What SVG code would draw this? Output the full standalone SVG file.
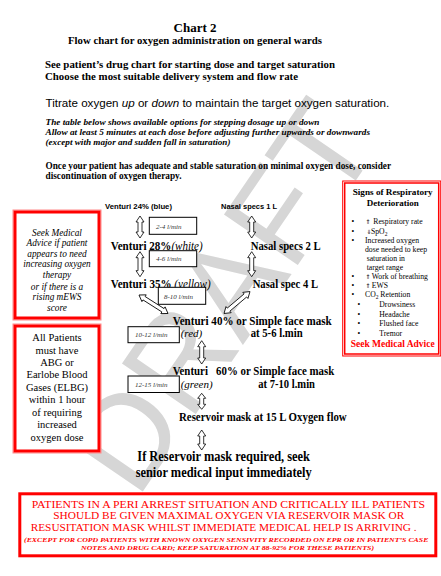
<svg xmlns="http://www.w3.org/2000/svg" width="441" height="576" viewBox="0 0 441 576">
<style>
.sb{font-family:"Liberation Serif",serif;font-weight:bold;fill:#000}
.s{font-family:"Liberation Serif",serif;fill:#000}
.it{font-style:italic}
.nb{font-weight:normal}
.ar{font-family:"Liberation Sans",Arial,sans-serif;fill:#000}
.red{fill:#f00}
.arr{fill:#fff;stroke:#000;stroke-width:0.8}
.fb{fill:#fff;stroke:#000;stroke-width:1}
.fl{font-family:"Liberation Serif",serif;font-style:italic;font-size:7px;fill:#333}
.rb{fill:none;stroke:#f00}
.sym{font-family:"DejaVu Sans",sans-serif;font-size:6px;fill:#000}
</style>
<rect width="441" height="576" fill="#fff"/>
<g id="watermark">
<text x="0" y="0" transform="translate(222,296) rotate(-55.6)" text-anchor="middle" dy="45" font-family="Liberation Sans, Arial, sans-serif" font-size="130" fill="#d6d6d6">DRAFT</text>
</g>
<g id="header">
<text class="sb" x="195" y="32" text-anchor="middle" font-size="13">Chart 2</text>
<text class="sb" x="68" y="44" font-size="10.5" textLength="254" lengthAdjust="spacingAndGlyphs">Flow chart for oxygen administration on general wards</text>
<text class="sb" x="45" y="68" font-size="10.5" textLength="290" lengthAdjust="spacingAndGlyphs">See patient’s drug chart for starting dose and target saturation</text>
<text class="sb" x="45" y="80" font-size="10.5" textLength="253" lengthAdjust="spacingAndGlyphs">Choose the most suitable delivery system and flow rate</text>
<text class="ar" x="45.5" y="107" font-size="11.6">Titrate oxygen <tspan font-style="italic">up</tspan> or <tspan font-style="italic">down</tspan> to maintain the target oxygen saturation.</text>
<text class="sb it" x="45.5" y="125" font-size="9" textLength="274" lengthAdjust="spacingAndGlyphs">The table below shows available options for stepping dosage up or down</text>
<text class="sb it" x="45.5" y="135" font-size="9" textLength="324.5" lengthAdjust="spacingAndGlyphs">Allow at least 5 minutes at each dose before adjusting further upwards or downwards</text>
<text class="sb it" x="45.5" y="145" font-size="9" textLength="185" lengthAdjust="spacingAndGlyphs">(except with major and sudden fall in saturation)</text>
<text class="sb" x="45.5" y="169" font-size="9.5" textLength="345.5" lengthAdjust="spacingAndGlyphs">Once your patient has adequate and stable saturation on minimal oxygen dose, consider</text>
<text class="sb" x="45.5" y="179" font-size="9.5" textLength="136" lengthAdjust="spacingAndGlyphs">discontinuation of oxygen therapy.</text>
</g>
<g id="signs-box">
<rect x="342.7" y="181" width="98" height="175" fill="#fff" stroke="#f00" stroke-width="1"/>
<rect class="rb" x="344.7" y="183" width="94" height="171" stroke-width="1.5"/>
<text class="sb" x="392.7" y="195" text-anchor="middle" font-size="9" textLength="80" lengthAdjust="spacingAndGlyphs">Signs of Respiratory</text>
<text class="sb" x="392.7" y="206" text-anchor="middle" font-size="9">Deterioration</text>
<g class="s" font-size="7.7">
<text x="351.5" y="224">•</text><text class="sym" x="365.5" y="224">⇑</text><text x="373.3" y="224">Respiratory rate</text>
<text x="351.5" y="234">•</text><text class="sym" x="366.5" y="234">⇓</text><text x="371" y="234">SpO<tspan font-size="5.5" dy="1.5">2</tspan></text>
<text x="351.5" y="243">•</text><text x="365" y="243">Increased oxygen</text>
<text x="365" y="252">dose needed to keep</text>
<text x="366.7" y="261">saturation in</text>
<text x="366.7" y="270">target range</text>
<text x="351.5" y="279">•</text><text class="sym" x="365.5" y="279">⇑</text><text x="371.7" y="279">Work of breathing</text>
<text x="351.5" y="288">•</text><text class="sym" x="365.5" y="288">⇑</text><text x="371.7" y="288">EWS</text>
<text x="351.5" y="297">•</text><text x="365" y="297">CO<tspan font-size="5.5" dy="1.5">2</tspan><tspan dy="-1.5"> Retention</tspan></text>
<text x="357.5" y="307">•</text><text x="379.3" y="307">Drowsiness</text>
<text x="357.5" y="317">•</text><text x="379.3" y="317">Headache</text>
<text x="357.5" y="326">•</text><text x="379.3" y="326">Flushed face</text>
<text x="357.5" y="336">•</text><text x="379.3" y="336">Tremor</text>
</g>
<text class="sb red" x="392.7" y="347" text-anchor="middle" font-size="9.5">Seek Medical Advice</text>
</g>
<g id="advice-box">
<rect x="13" y="210" width="88" height="110" fill="#fff" stroke="#ff8a8a" stroke-width="1"/>
<rect x="15" y="212" width="84" height="106" fill="none" stroke="#f00" stroke-width="3"/>
<g class="s it" font-size="9.3" text-anchor="middle">
<text x="57" y="236">Seek Medical</text>
<text x="57" y="246">Advice if patient</text>
<text x="57" y="256.5">appears to need</text>
<text x="57" y="267">increasing oxygen</text>
<text x="57" y="278">therapy</text>
<text x="57" y="289.5">or if there is a</text>
<text x="57" y="300">rising mEWS</text>
<text x="57" y="310.5">score</text>
</g>
</g>
<g id="abg-box">
<rect x="13" y="324" width="88" height="129" fill="#fff" stroke="#ff8a8a" stroke-width="1"/>
<rect x="15" y="326" width="84" height="125" fill="none" stroke="#f00" stroke-width="3"/>
<g class="s" font-size="10.5" text-anchor="middle">
<text x="57" y="341">All Patients</text>
<text x="57" y="353.5">must have</text>
<text x="57" y="366">ABG or</text>
<text x="57" y="378">Earlobe Blood</text>
<text x="57" y="390.5">Gases (ELBG)</text>
<text x="57" y="403">within 1 hour</text>
<text x="57" y="415.5">of requiring</text>
<text x="57" y="428">increased</text>
<text x="57" y="440.5">oxygen dose</text>
</g>
</g>
<g id="connectors">
<path class="arr" transform="translate(140,216) rotate(90)" d="M0,0 L6,-4 L6,-2 L16,-2 L16,-4 L22,0 L16,4 L16,2 L6,2 L6,4 Z"/>
<path class="arr" transform="translate(140,251.7) rotate(90)" d="M0,0 L6,-4 L6,-2 L19,-2 L19,-4 L25,0 L19,4 L19,2 L6,2 L6,4 Z"/>
<path class="arr" transform="translate(251.7,216) rotate(90)" d="M0,0 L6,-4 L6,-2 L16,-2 L16,-4 L22,0 L16,4 L16,2 L6,2 L6,4 Z"/>
<path class="arr" transform="translate(251.7,251.7) rotate(90)" d="M0,0 L6,-4 L6,-2 L19,-2 L19,-4 L25,0 L19,4 L19,2 L6,2 L6,4 Z"/>
<path class="arr" transform="translate(139,295) rotate(32.5)" d="M0,0 L6,-4 L6,-2 L28.4,-2 L28.4,-4 L34.4,0 L28.4,4 L28.4,2 L6,2 L6,4 Z"/>
<path class="arr" transform="translate(224,313.5) rotate(-40.2)" d="M0,0 L6,-4 L6,-2 L28,-2 L28,-4 L34,0 L28,4 L28,2 L6,2 L6,4 Z"/>
<path class="arr" transform="translate(201.7,340.7) rotate(90)" d="M0,0 L6,-4 L6,-2 L17.3,-2 L17.3,-4 L23.3,0 L17.3,4 L17.3,2 L6,2 L6,4 Z"/>
<path class="arr" transform="translate(201.7,393.3) rotate(90)" d="M0,0 L5,-4 L5,-2 L11,-2 L11,-4 L16,0 L11,4 L11,2 L5,2 L5,4 Z"/>
<path class="arr" transform="translate(201.7,430) rotate(90)" d="M0,0 L6,-4 L6,-2 L14,-2 L14,-4 L20,0 L14,4 L14,2 L6,2 L6,4 Z"/>
</g>
<g id="venturi-24">
<text class="ar" x="105" y="209" font-size="8" font-weight="bold" textLength="67" lengthAdjust="spacingAndGlyphs">Venturi 24% (blue)</text>
</g>
<g id="nasal-1">
<text class="ar" x="221" y="209" font-size="8" font-weight="bold" textLength="56" lengthAdjust="spacingAndGlyphs">Nasal specs 1 L</text>
</g>
<g id="venturi-28">
<text class="sb" x="110.7" y="250" font-size="11.5" textLength="92" lengthAdjust="spacingAndGlyphs">Venturi  28%<tspan class="it nb">(white)</tspan></text>
</g>
<g id="venturi-35">
<text class="sb" x="110.7" y="288" font-size="11.5" textLength="100" lengthAdjust="spacingAndGlyphs">Venturi 35%  <tspan class="it nb">(yellow)</tspan></text>
</g>
<g id="nasal-2">
<text class="sb" x="250.7" y="250" font-size="11.5" textLength="70" lengthAdjust="spacingAndGlyphs">Nasal specs 2 L</text>
</g>
<g id="nasal-4">
<text class="sb" x="252.7" y="288" font-size="11.5" textLength="65.3" lengthAdjust="spacingAndGlyphs">Nasal spec 4 L</text>
</g>
<g id="venturi-40">
<text class="sb" x="172.7" y="325" font-size="11.5" textLength="159" lengthAdjust="spacingAndGlyphs">Venturi  40% or Simple face mask</text>
<text class="s it" x="180.7" y="337" font-size="11">(red)</text>
<text class="sb" x="250.7" y="337" font-size="11.5" textLength="52" lengthAdjust="spacingAndGlyphs">at 5-6 l.min</text>
</g>
<g id="venturi-60">
<text class="sb" x="172.7" y="375" font-size="11.5" textLength="161.6" lengthAdjust="spacingAndGlyphs" xml:space="preserve">Venturi   60% or Simple face mask</text>
<text class="s it" x="180.7" y="388" font-size="11">(green)</text>
<text class="sb" x="258.3" y="388" font-size="11.5" textLength="56.7" lengthAdjust="spacingAndGlyphs">at 7-10 l.min</text>
</g>
<g id="reservoir">
<text class="sb" x="179" y="421" font-size="11.5" textLength="167.7" lengthAdjust="spacingAndGlyphs">Reservoir mask at 15 L Oxygen flow</text>
</g>
<g id="senior-input">
<text class="sb" x="137.3" y="461" font-size="14" textLength="172.7" lengthAdjust="spacingAndGlyphs">If Reservoir mask required, seek</text>
<text class="sb" x="135.7" y="477" font-size="14" textLength="176" lengthAdjust="spacingAndGlyphs">senior medical input immediately</text>
</g>
<g id="flow-2-4"><rect class="fb" x="149.3" y="217.3" width="47.4" height="17"/><text class="fl" x="156" y="228.5">2-4 l/min</text></g>
<g id="flow-4-6"><rect class="fb" x="149.3" y="250.7" width="47.4" height="16"/><text class="fl" x="156" y="261">4-6 l/min</text></g>
<g id="flow-8-10"><rect class="fb" x="158.3" y="287.3" width="47.4" height="17"/><text class="fl" x="164" y="299">8-10 l/min</text></g>
<g id="flow-10-12"><rect class="fb" x="128" y="326.7" width="51.3" height="16"/><text class="fl" x="135" y="337">10-12 l/min</text></g>
<g id="flow-12-15"><rect class="fb" x="128" y="376" width="51.3" height="16.5"/><text class="fl" x="135" y="387">12-15 l/min</text></g>
<g id="peri-arrest-box">
<rect class="rb" x="19.8" y="493.8" width="416" height="62" stroke-width="3"/>
<g class="s red" text-anchor="middle">
<text x="228.3" y="508" font-size="9.5" textLength="393.3" lengthAdjust="spacingAndGlyphs">PATIENTS IN A PERI ARREST SITUATION AND CRITICALLY ILL PATIENTS</text>
<text x="228.8" y="519" font-size="9.5" textLength="351" lengthAdjust="spacingAndGlyphs">SHOULD BE GIVEN MAXIMAL OXYGEN VIA RESERVOIR MASK OR</text>
<text x="223.7" y="530.5" font-size="9.5" textLength="386" lengthAdjust="spacingAndGlyphs">RESUSITATION MASK WHILST IMMEDIATE MEDICAL HELP IS ARRIVING .</text>
<text x="226.2" y="541.5" font-size="7" font-weight="bold" font-style="italic" textLength="404.3" lengthAdjust="spacingAndGlyphs">(EXCEPT FOR COPD PATIENTS WITH KNOWN OXYGEN SENSIVITY RECORDED ON EPR OR IN PATIENT’S CASE</text>
<text x="227.5" y="550" font-size="7" font-weight="bold" font-style="italic" textLength="293" lengthAdjust="spacingAndGlyphs">NOTES AND DRUG CARD; KEEP SATURATION AT  88-92% FOR THESE PATIENTS)</text>
</g>
</g>
</svg>
